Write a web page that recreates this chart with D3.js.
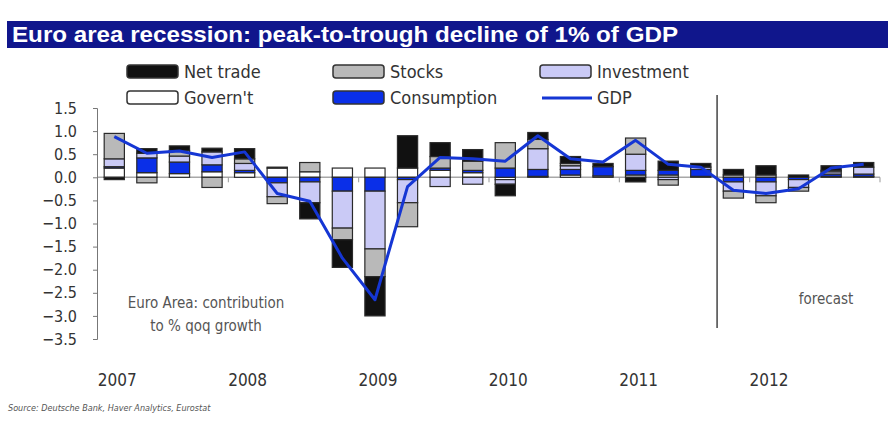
<!DOCTYPE html>
<html>
<head>
<meta charset="utf-8">
<script src="https://cdnjs.cloudflare.com/ajax/libs/d3/7.8.5/d3.min.js"></script>
<style>
  body { margin: 0; background: #fff; }
  svg text { font-family: "DejaVu Sans Condensed", "Liberation Sans", Arial, sans-serif; }
</style>
</head>
<body>
<div id="chart"></div>
<script>
// Quarters 2007Q1 .. 2012Q4
const quarters = ["2007Q1","2007Q2","2007Q3","2007Q4","2008Q1","2008Q2","2008Q3","2008Q4",
                  "2009Q1","2009Q2","2009Q3","2009Q4","2010Q1","2010Q2","2010Q3","2010Q4",
                  "2011Q1","2011Q2","2011Q3","2011Q4","2012Q1","2012Q2","2012Q3","2012Q4"];
const years = ["2007","2008","2009","2010","2011","2012"];
const yTicks = [1.5, 1.0, 0.5, 0.0, -0.5, -1.0, -1.5, -2.0, -2.5, -3.0, -3.5];

// Contributions to % qoq growth
const netTrade    = [-0.05, 0.10, 0.10, 0.08, 0.22, 0.02, -0.35, -0.60, -0.85, 0.70, 0.30, 0.25, -0.25, 0.15, 0.15, 0.07, -0.10, 0.20, 0.08, 0.12, 0.20, 0.05, 0.10, 0.10];
const stocks      = [0.55, -0.12, 0.12, -0.22, 0.10, -0.15, 0.20, -0.25, -0.60, -0.52, 0.25, 0.20, 0.55, 0.20, 0.05, 0.00, 0.35, -0.12, 0.00, -0.15, -0.15, -0.08, 0.03, 0.00];
const investment  = [0.17, 0.10, 0.13, 0.28, 0.15, -0.30, -0.45, -0.80, -1.25, -0.50, -0.20, -0.15, -0.10, 0.45, 0.08, 0.00, 0.35, -0.05, 0.05, -0.20, -0.30, -0.17, 0.05, 0.15];
const government  = [0.20, 0.10, 0.08, 0.12, 0.10, 0.20, 0.12, 0.20, 0.20, 0.20, 0.15, 0.10, -0.05, 0.02, 0.05, 0.03, 0.05, 0.05, 0.02, 0.05, 0.05, 0.00, 0.02, 0.02];
const consumption = [0.03, 0.32, 0.25, 0.15, 0.05, -0.12, -0.10, -0.30, -0.30, -0.05, 0.05, 0.05, 0.20, 0.15, 0.12, 0.20, 0.10, 0.10, 0.15, -0.10, -0.10, -0.05, 0.05, 0.05];
const gdp         = [0.88, 0.52, 0.57, 0.43, 0.55, -0.35, -0.52, -1.75, -2.65, -0.20, 0.43, 0.40, 0.35, 0.90, 0.40, 0.33, 0.80, 0.28, 0.22, -0.28, -0.35, -0.25, 0.20, 0.28];

const forecastStart = "2011Q4";

// stacking order from zero outwards
const keys = ["govern", "consumption", "investment", "stocks", "netTrade"];
const colors = {
    netTrade: "#111111",
    stocks: "#b9b9b9",
    investment: "#cacaf6",
    govern: "#ffffff",
    consumption: "#0a2fe8",
    gdp: "#1536d4"
};

const table = quarters.map((q, i) => ({
    q: q,
    netTrade: netTrade[i],
    stocks: stocks[i],
    investment: investment[i],
    govern: government[i],
    consumption: consumption[i],
    gdp: gdp[i]
}));

const W = 888, H = 421;
const svg = d3.select("#chart").append("svg")
    .attr("width", W)
    .attr("height", H);

// Title bar
svg.append("rect")
    .attr("x", 7).attr("y", 21)
    .attr("width", W - 7).attr("height", 27)
    .attr("fill", "#10168c");
svg.append("text")
    .attr("x", 12).attr("y", 42)
    .attr("fill", "#fff")
    .attr("textLength", 666)
    .attr("lengthAdjust", "spacingAndGlyphs")
    .style("font-family", "'Liberation Sans', Arial, sans-serif")
    .style("font-weight", "bold")
    .style("font-size", "22px")
    .text("Euro area recession: peak-to-trough decline of 1% of GDP");

// Scales
const x = d3.scaleBand()
    .domain(quarters)
    .range([98, 880])
    .paddingInner(0.38)
    .paddingOuter(0.19);

const y = d3.scaleLinear()
    .domain([-3.5, 1.5])
    .range([339, 108]);

// Zero line
svg.append("line")
    .attr("x1", 98).attr("x2", 880)
    .attr("y1", y(0)).attr("y2", y(0))
    .attr("stroke", "#a8a8a8")
    .attr("stroke-width", 1.5);

// year boundary ticks on zero line
const step = x.step();
years.forEach((yr, i) => {
    if (i === 0) return;
    const xb = x(yr + "Q1") - x.paddingInner() * step / 2;
    svg.append("line")
        .attr("x1", xb).attr("x2", xb)
        .attr("y1", y(0)).attr("y2", y(0) + 5)
        .attr("stroke", "#999");
});
{
    const xe = x("2012Q4") + x.bandwidth() + x.paddingInner() * step / 2;
    svg.append("line")
        .attr("x1", xe).attr("x2", xe)
        .attr("y1", y(0)).attr("y2", y(0) + 5)
        .attr("stroke", "#999");
}

// Stacked bars
const series = d3.stack()
    .keys(keys)
    .offset(d3.stackOffsetDiverging)(table);

series.forEach(s => {
    svg.append("g")
        .selectAll("rect")
        .data(s)
        .join("rect")
        .attr("x", d => x(d.data.q))
        .attr("width", x.bandwidth())
        .attr("y", d => y(Math.max(d[0], d[1])))
        .attr("height", d => Math.abs(y(d[0]) - y(d[1])))
        .attr("fill", colors[s.key])
        .attr("stroke", "#2a2a2a")
        .attr("stroke-width", 1.2);
});

// Y axis
const yAxis = svg.append("g")
    .attr("transform", "translate(97,0)")
    .call(d3.axisLeft(y).tickValues(yTicks).tickFormat(d3.format(".1f")).tickSize(4));
yAxis.select(".domain").attr("stroke", "#777");
yAxis.selectAll(".tick line").attr("stroke", "#777");
yAxis.selectAll(".tick text")
    .attr("x", -20)
    .attr("fill", "#333")
    .style("font-size", "16px");

// Forecast divider
const xf = x(forecastStart) - x.paddingInner() * step / 2;
svg.append("line")
    .attr("x1", xf).attr("x2", xf)
    .attr("y1", 95).attr("y2", 328)
    .attr("stroke", "#444")
    .attr("stroke-width", 1.5);

// GDP line
svg.append("path")
    .datum(table)
    .attr("fill", "none")
    .attr("stroke", colors.gdp)
    .attr("stroke-width", 3)
    .attr("stroke-linejoin", "round")
    .attr("d", d3.line()
        .x(d => x(d.q) + x.bandwidth() / 2)
        .y(d => y(d.gdp)));

// Year labels
svg.append("g")
    .selectAll("text")
    .data(years)
    .join("text")
    .attr("x", d => x(d + "Q1") + x.bandwidth() / 2 + 3)
    .attr("y", 386)
    .attr("text-anchor", "middle")
    .attr("fill", "#333")
    .style("font-size", "17px")
    .text(d => d);

// Annotations
svg.append("text")
    .attr("x", 206).attr("y", 308)
    .attr("text-anchor", "middle")
    .attr("fill", "#555")
    .style("font-size", "15px")
    .text("Euro Area: contribution");
svg.append("text")
    .attr("x", 206).attr("y", 331)
    .attr("text-anchor", "middle")
    .attr("fill", "#555")
    .style("font-size", "15px")
    .text("to % qoq growth");
svg.append("text")
    .attr("x", 826).attr("y", 304)
    .attr("text-anchor", "middle")
    .attr("fill", "#555")
    .style("font-size", "15px")
    .text("forecast");

// Source
svg.append("text")
    .attr("x", 8).attr("y", 411)
    .attr("fill", "#555")
    .style("font-size", "9px")
    .style("font-style", "italic")
    .text("Source: Deutsche Bank, Haver Analytics, Eurostat");

// Legend
const legendItems = [
    { key: "netTrade", label: "Net trade", col: 0, row: 0 },
    { key: "stocks", label: "Stocks", col: 1, row: 0 },
    { key: "investment", label: "Investment", col: 2, row: 0 },
    { key: "govern", label: "Govern't", col: 0, row: 1 },
    { key: "consumption", label: "Consumption", col: 1, row: 1 },
    { key: "gdp", label: "GDP", col: 2, row: 1 }
];
const colX = [127, 333, 540];
const rowY = [72, 98];

legendItems.forEach(it => {
    const lx = colX[it.col], ly = rowY[it.row];
    if (it.key === "gdp") {
        svg.append("line")
            .attr("x1", lx + 2).attr("x2", lx + 52)
            .attr("y1", ly).attr("y2", ly)
            .attr("stroke", colors.gdp)
            .attr("stroke-width", 3);
    } else {
        svg.append("rect")
            .attr("x", lx).attr("y", ly - 7)
            .attr("width", 51).attr("height", 13)
            .attr("rx", 3)
            .attr("fill", colors[it.key])
            .attr("stroke", "#333")
            .attr("stroke-width", 1.5);
    }
    svg.append("text")
        .attr("x", lx + 57).attr("y", ly + 6)
        .attr("fill", "#333")
        .style("font-size", "18px")
        .text(it.label);
});
</script>
</body>
</html>
